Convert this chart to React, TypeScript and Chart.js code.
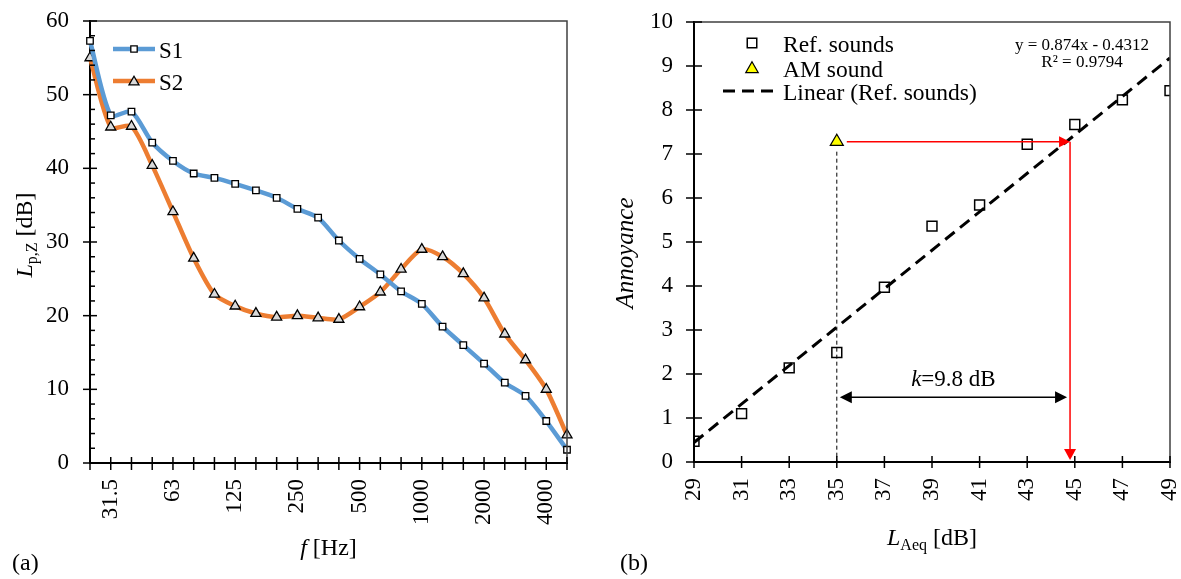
import React, { useEffect, useRef } from 'react';
import { Chart, registerables } from 'chart.js';

Chart.register(...registerables);

const FONT = '"Liberation Serif", "Times New Roman", serif';

// ---------- (a) third-octave spectra ----------
const bandLabels = ['25', '31.5', '40', '50', '63', '80', '100', '125', '160', '200', '250', '315', '400', '500', '630', '800', '1000', '1250', '1600', '2000', '2500', '3150', '4000', '5000'];
const shownBandLabels = ['31.5', '63', '125', '250', '500', '1000', '2000', '4000'];
const s1Values = [57.3, 47.2, 47.7, 43.5, 41.0, 39.3, 38.7, 37.9, 37.0, 36.0, 34.5, 33.3, 30.2, 27.7, 25.6, 23.3, 21.6, 18.5, 16.0, 13.5, 10.9, 9.1, 5.7, 1.8];
const s2Values = [55.0, 45.6, 45.7, 40.4, 34.1, 27.8, 22.9, 21.3, 20.3, 19.8, 20.0, 19.7, 19.5, 21.2, 23.2, 26.3, 29.0, 28.0, 25.7, 22.4, 17.5, 14.0, 10.0, 3.8];
const leftYMin = 0;
const leftYMax = 60;
const leftYStep = 10;
const leftYMinorStep = 2;
const seriesNames = ['S1', 'S2'];

// ---------- (b) annoyance vs LAeq ----------
const refLevels = [29, 31, 33, 35, 37, 39, 41, 43, 45, 47, 49];
const refAnnoyance = [0.47, 1.1, 2.14, 2.49, 3.97, 5.36, 5.84, 7.22, 7.67, 8.23, 8.44];
const amLevels = [35];
const amAnnoyance = [7.28];
const trendLevels = [29, 49];
const trendAnnoyance = [0.443, 9.183];
const equivalentLevel = 44.8;
const kArrowAnnoyance = 1.47;
const rightXMin = 29;
const rightXMax = 49;
const rightXStep = 2;
const rightYMin = 0;
const rightYMax = 10;
const rightYStep = 1;
const legendNames = ['Ref. sounds', 'AM sound', 'Linear (Ref. sounds)'];
const equationText = 'y = 0.874x - 0.4312';
const r2Text = 'R\u00B2 = 0.9794';

const BLUE = '#5B9BD5';
const ORANGE = '#ED7D31';

function seg(ctx: CanvasRenderingContext2D, x1: number, y1: number, x2: number, y2: number) {
  ctx.beginPath();
  ctx.moveTo(x1, y1);
  ctx.lineTo(x2, y2);
  ctx.stroke();
}

function arrowHead(ctx: CanvasRenderingContext2D, tx: number, ty: number, dx: number, dy: number, len: number, half: number, color: string) {
  const nx = -dy;
  const ny = dx;
  ctx.fillStyle = color;
  ctx.beginPath();
  ctx.moveTo(tx, ty);
  ctx.lineTo(tx - dx * len + nx * half, ty - dy * len + ny * half);
  ctx.lineTo(tx - dx * len - nx * half, ty - dy * len - ny * half);
  ctx.closePath();
  ctx.fill();
}

function drawSquare(ctx: CanvasRenderingContext2D, x: number, y: number, side: number, fill: string | null, lw: number) {
  ctx.beginPath();
  ctx.rect(x - side / 2, y - side / 2, side, side);
  if (fill) {
    ctx.fillStyle = fill;
    ctx.fill();
  }
  ctx.strokeStyle = '#000';
  ctx.lineWidth = lw;
  ctx.stroke();
}

function drawTriangle(ctx: CanvasRenderingContext2D, x: number, y: number, r: number, fill: string, lw: number) {
  ctx.beginPath();
  ctx.moveTo(x, y - r);
  ctx.lineTo(x + r * 0.866, y + r / 2);
  ctx.lineTo(x - r * 0.866, y + r / 2);
  ctx.closePath();
  ctx.fillStyle = fill;
  ctx.fill();
  ctx.strokeStyle = '#000';
  ctx.lineWidth = lw;
  ctx.stroke();
}

type Run = { text: string; font: string; dy?: number };

function drawRuns(ctx: CanvasRenderingContext2D, runs: Run[], cx: number, baseline: number) {
  let total = 0;
  runs.forEach((r) => {
    ctx.font = r.font;
    total += ctx.measureText(r.text).width;
  });
  let x = cx - total / 2;
  ctx.textAlign = 'left';
  ctx.textBaseline = 'alphabetic';
  ctx.fillStyle = '#000';
  runs.forEach((r) => {
    ctx.font = r.font;
    ctx.fillText(r.text, x, baseline + (r.dy || 0));
    x += ctx.measureText(r.text).width;
  });
}

function zeroPadding(s: any) {
  s.paddingTop = 0;
  s.paddingBottom = 0;
  s.paddingLeft = 0;
  s.paddingRight = 0;
}

const leftDecor = {
  id: 'leftDecor',
  afterDraw(chart: any) {
    const { ctx, chartArea: a, scales } = chart;
    const x = scales.x;
    const y = scales.y;
    ctx.save();
    // box (top + right)
    ctx.strokeStyle = '#404040';
    ctx.lineWidth = 1.5;
    ctx.beginPath();
    ctx.moveTo(a.left, a.top);
    ctx.lineTo(a.right, a.top);
    ctx.lineTo(a.right, a.bottom);
    ctx.stroke();
    // x ticks
    ctx.strokeStyle = '#000';
    ctx.lineWidth = 1.5;
    bandLabels.forEach((_, i) => {
      const px = x.getPixelForValue(i);
      seg(ctx, px, a.bottom - 6, px, a.bottom + 7);
    });
    // y ticks
    for (let v = leftYMin; v <= leftYMax + 1e-9; v += leftYMinorStep) {
      const py = y.getPixelForValue(v);
      if (Math.abs(v % leftYStep) < 1e-9) seg(ctx, a.left - 7, py, a.left + 7, py);
      else seg(ctx, a.left, py, a.left + 5, py);
    }
    // legend
    const lx1 = 113, lx2 = 155, lmx = 134;
    const rows = [49, 81];
    ctx.lineWidth = 4.5;
    ctx.strokeStyle = BLUE;
    seg(ctx, lx1, rows[0], lx2, rows[0]);
    drawSquare(ctx, lmx, rows[0], 6.4, '#fff', 1.3);
    ctx.lineWidth = 4.5;
    ctx.strokeStyle = ORANGE;
    seg(ctx, lx1, rows[1], lx2, rows[1]);
    drawTriangle(ctx, lmx, rows[1] + 1, 5.8, '#D9D9D9', 1.3);
    ctx.fillStyle = '#000';
    ctx.font = `23px ${FONT}`;
    ctx.textAlign = 'left';
    ctx.textBaseline = 'alphabetic';
    ctx.fillText(seriesNames[0], 159, rows[0] + 9);
    ctx.fillText(seriesNames[1], 159, rows[1] + 9);
    // y title
    ctx.save();
    ctx.translate(31.5, 235);
    ctx.rotate(-Math.PI / 2);
    drawRuns(ctx, [
      { text: 'L', font: `italic 24px ${FONT}` },
      { text: 'p,Z', font: `16px ${FONT}`, dy: 5 },
      { text: ' [dB]', font: `24px ${FONT}` },
    ], 0, 0);
    ctx.restore();
    // x title
    drawRuns(ctx, [
      { text: 'f', font: `italic 24px ${FONT}` },
      { text: ' [Hz]', font: `24px ${FONT}` },
    ], (a.left + a.right) / 2, 555);
    // panel label
    ctx.font = `24px ${FONT}`;
    ctx.textAlign = 'left';
    ctx.fillText('(a)', 12, 570);
    ctx.restore();
  },
};

const rightDecor = {
  id: 'rightDecor',
  afterDraw(chart: any) {
    const { ctx, chartArea: a, scales } = chart;
    const x = scales.x;
    const y = scales.y;
    ctx.save();
    ctx.strokeStyle = '#404040';
    ctx.lineWidth = 1.5;
    ctx.beginPath();
    ctx.moveTo(a.left, a.top);
    ctx.lineTo(a.right, a.top);
    ctx.lineTo(a.right, a.bottom);
    ctx.stroke();
    ctx.strokeStyle = '#000';
    ctx.lineWidth = 1.5;
    for (let v = rightXMin; v <= rightXMax; v += rightXStep) {
      const px = x.getPixelForValue(v);
      seg(ctx, px, a.bottom - 6, px, a.bottom + 6);
    }
    for (let v = rightYMin; v <= rightYMax; v += rightYStep) {
      const py = y.getPixelForValue(v);
      seg(ctx, a.left - 8, py, a.left + 8, py);
    }
    // dashed vertical from AM sound
    const amX = x.getPixelForValue(amLevels[0]);
    const amY = y.getPixelForValue(amAnnoyance[0]);
    ctx.lineWidth = 1;
    ctx.setLineDash([4, 3]);
    seg(ctx, amX, amY + 10, amX, a.bottom);
    ctx.setLineDash([]);
    // red arrows
    const eqX = x.getPixelForValue(equivalentLevel);
    ctx.strokeStyle = '#FF0000';
    ctx.lineWidth = 1.5;
    seg(ctx, amX + 10, amY, eqX - 10, amY);
    arrowHead(ctx, eqX, amY, 1, 0, 11, 5.5, '#FF0000');
    seg(ctx, eqX, amY, eqX, a.bottom - 12);
    arrowHead(ctx, eqX, a.bottom - 2, 0, 1, 11, 6, '#FF0000');
    // k double arrow
    const ky = y.getPixelForValue(kArrowAnnoyance);
    ctx.strokeStyle = '#000';
    ctx.lineWidth = 1.5;
    seg(ctx, amX + 12, ky, eqX - 12, ky);
    arrowHead(ctx, amX + 3, ky, -1, 0, 12, 6, '#000');
    arrowHead(ctx, eqX - 3, ky, 1, 0, 12, 6, '#000');
    drawRuns(ctx, [
      { text: 'k', font: `italic 23px ${FONT}` },
      { text: '=9.8 dB', font: `23px ${FONT}` },
    ], (amX + eqX) / 2, ky - 11);
    // legend
    drawSquare(ctx, 752, 43, 9.5, null, 1.5);
    drawTriangle(ctx, 752, 69, 7.2, '#FFFF00', 1.2);
    ctx.strokeStyle = '#000';
    ctx.lineWidth = 3;
    ctx.setLineDash([12, 7]);
    seg(ctx, 723, 91, 780, 91);
    ctx.setLineDash([]);
    ctx.fillStyle = '#000';
    ctx.font = `23.5px ${FONT}`;
    ctx.textAlign = 'left';
    ctx.textBaseline = 'alphabetic';
    ctx.fillText(legendNames[0], 783, 52);
    ctx.fillText(legendNames[1], 783, 77);
    ctx.fillText(legendNames[2], 783, 100);
    // equation
    ctx.font = `17px ${FONT}`;
    ctx.textAlign = 'center';
    ctx.fillText(equationText, 1082, 50);
    ctx.fillText(r2Text, 1082, 67);
    // y title
    ctx.save();
    ctx.translate(633, 253);
    ctx.rotate(-Math.PI / 2);
    drawRuns(ctx, [{ text: 'Annoyance', font: `italic 25px ${FONT}` }], 0, 0);
    ctx.restore();
    // x title
    drawRuns(ctx, [
      { text: 'L', font: `italic 24px ${FONT}` },
      { text: 'Aeq', font: `16px ${FONT}`, dy: 5 },
      { text: ' [dB]', font: `24px ${FONT}` },
    ], (a.left + a.right) / 2, 545);
    ctx.font = `24px ${FONT}`;
    ctx.textAlign = 'left';
    ctx.fillText('(b)', 620, 570);
    ctx.restore();
  },
};

export default function App() {
  const leftRef = useRef<HTMLCanvasElement>(null);
  const rightRef = useRef<HTMLCanvasElement>(null);

  useEffect(() => {
    const tickFont = { family: FONT, size: 23 };
    const left = new Chart(leftRef.current as HTMLCanvasElement, {
      type: 'line',
      data: {
        labels: bandLabels,
        datasets: [
          {
            label: seriesNames[0],
            data: s1Values,
            borderColor: BLUE,
            borderWidth: 4.5,
            tension: 0.25,
            pointStyle: 'rect',
            pointRadius: 4.6,
            pointBackgroundColor: '#fff',
            pointBorderColor: '#000',
            pointBorderWidth: 1.3,
          },
          {
            label: seriesNames[1],
            data: s2Values,
            borderColor: ORANGE,
            borderWidth: 4.5,
            tension: 0.25,
            pointStyle: 'triangle',
            pointRadius: 5.8,
            pointBackgroundColor: '#D9D9D9',
            pointBorderColor: '#000',
            pointBorderWidth: 1.3,
          },
        ],
      },
      options: {
        responsive: false,
        animation: false,
        events: [],
        layout: { padding: { left: 0, right: 23, top: 21, bottom: 0 } },
        plugins: { legend: { display: false }, tooltip: { enabled: false } },
        scales: {
          x: {
            type: 'category',
            offset: false,
            grid: { display: false, drawTicks: false },
            border: { display: true, color: '#000', width: 2 },
            ticks: {
              autoSkip: false,
              maxRotation: 90,
              minRotation: 90,
              padding: 16,
              color: '#000',
              font: tickFont,
              callback: (_v: any, i: number) => (shownBandLabels.includes(bandLabels[i]) ? bandLabels[i] : ''),
            },
            afterFit: (s: any) => {
              s.height = 116;
              zeroPadding(s);
            },
          },
          y: {
            min: leftYMin,
            max: leftYMax,
            grid: { display: false, drawTicks: false },
            border: { display: true, color: '#000', width: 2 },
            ticks: { stepSize: leftYStep, padding: 21, color: '#000', font: tickFont },
            afterFit: (s: any) => {
              s.width = 90;
              zeroPadding(s);
            },
          },
        },
      } as any,
      plugins: [leftDecor],
    });

    const right = new Chart(rightRef.current as HTMLCanvasElement, {
      type: 'scatter',
      data: {
        datasets: [
          {
            label: legendNames[0],
            data: refLevels.map((v, i) => ({ x: v, y: refAnnoyance[i] })),
            pointStyle: 'rect',
            pointRadius: 7,
            pointBackgroundColor: 'rgba(255,255,255,0)',
            pointBorderColor: '#000',
            pointBorderWidth: 1.5,
            showLine: false,
          },
          {
            label: legendNames[1],
            data: amLevels.map((v, i) => ({ x: v, y: amAnnoyance[i] })),
            pointStyle: 'triangle',
            pointRadius: 7.5,
            pointBackgroundColor: '#FFFF00',
            pointBorderColor: '#000',
            pointBorderWidth: 1.2,
            showLine: false,
          },
          {
            label: legendNames[2],
            data: trendLevels.map((v, i) => ({ x: v, y: trendAnnoyance[i] })),
            showLine: true,
            borderColor: '#000',
            borderWidth: 3,
            borderDash: [12, 7],
            pointRadius: 0,
          },
        ],
      },
      options: {
        responsive: false,
        animation: false,
        events: [],
        layout: { padding: { left: 0, right: 11, top: 22, bottom: 0 } },
        plugins: { legend: { display: false }, tooltip: { enabled: false } },
        scales: {
          x: {
            type: 'linear',
            min: rightXMin,
            max: rightXMax,
            grid: { display: false, drawTicks: false },
            border: { display: true, color: '#000', width: 2 },
            ticks: { stepSize: rightXStep, maxRotation: 90, minRotation: 90, padding: 16, color: '#000', font: tickFont },
            afterFit: (s: any) => {
              s.height = 117;
              zeroPadding(s);
            },
          },
          y: {
            min: rightYMin,
            max: rightYMax,
            grid: { display: false, drawTicks: false },
            border: { display: true, color: '#000', width: 2 },
            ticks: { stepSize: rightYStep, padding: 21, color: '#000', font: tickFont },
            afterFit: (s: any) => {
              s.width = 104;
              zeroPadding(s);
            },
          },
        },
      } as any,
      plugins: [
        {
          id: 'shiftRight',
          afterDraw: (chart: any) => {
            const ctx = chart.ctx;
            ctx.save();
            ctx.translate(-590, 0);
            rightDecor.afterDraw({
              ...chart,
              ctx,
              chartArea: {
                left: chart.chartArea.left + 590,
                right: chart.chartArea.right + 590,
                top: chart.chartArea.top,
                bottom: chart.chartArea.bottom,
              },
              scales: {
                x: { getPixelForValue: (v: number) => chart.scales.x.getPixelForValue(v) + 590 },
                y: chart.scales.y,
              },
            });
            ctx.restore();
          },
        },
      ],
    });

    return () => {
      left.destroy();
      right.destroy();
    };
  }, []);

  return (
    <div style={{ position: 'fixed', left: 0, top: 0, width: 1181, height: 579, background: '#fff', overflow: 'hidden' }}>
      <canvas ref={leftRef} width={590} height={579} style={{ position: 'absolute', left: 0, top: 0, width: 590, height: 579 }} />
      <canvas ref={rightRef} width={591} height={579} style={{ position: 'absolute', left: 590, top: 0, width: 591, height: 579 }} />
    </div>
  );
}
